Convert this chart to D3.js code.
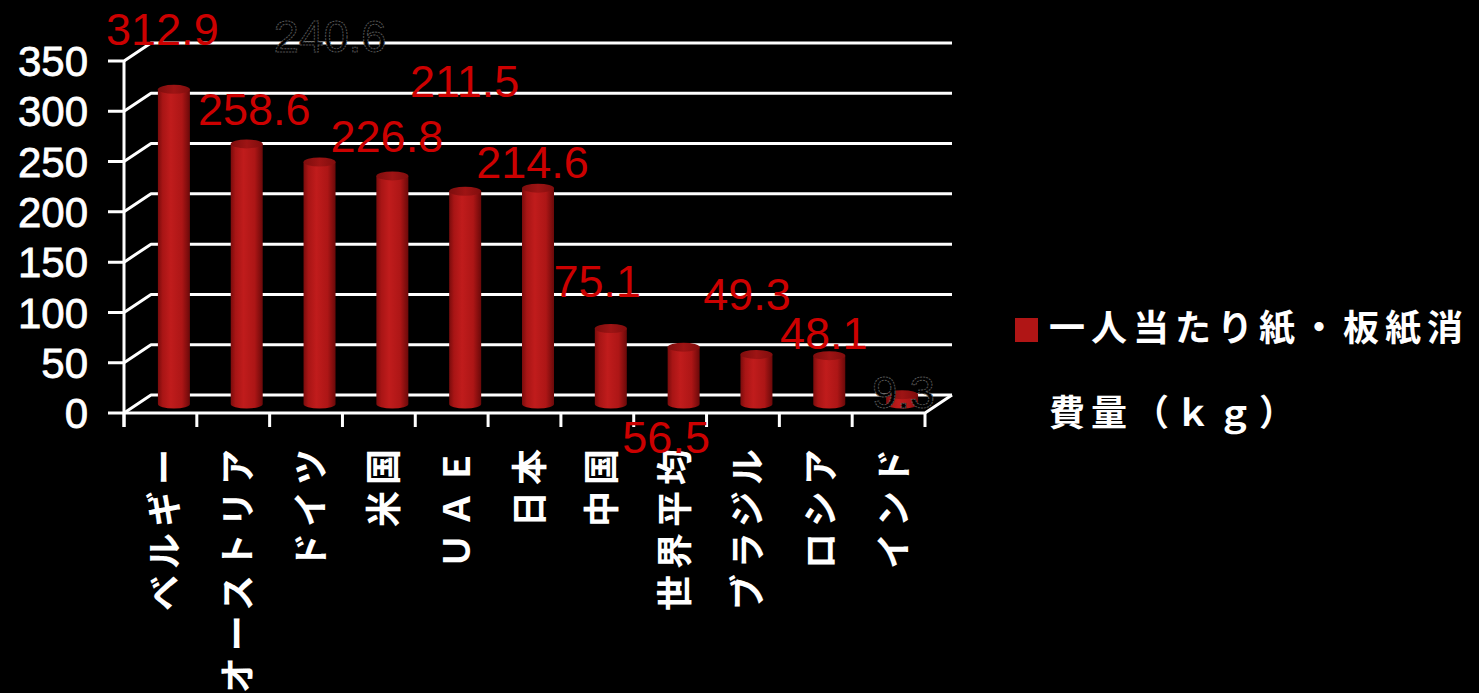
<!DOCTYPE html>
<html><head><meta charset="utf-8">
<script src="https://cdn.jsdelivr.net/npm/d3@7/dist/d3.min.js"></script>
<style>
html,body{margin:0;padding:0;background:#000;}
svg{display:block;}
</style></head>
<body>
<script>
const categories = ["ベルギー","オーストリア","ドイツ","米国","ＵＡＥ","日本","中国","世界平均","ブラジル","ロシア","インド"];
const values = [312.9, 258.6, 240.6, 226.8, 211.5, 214.6, 75.1, 56.5, 49.3, 48.1, 9.3];
const labelTexts = ["312.9","258.6","240.6","226.8","211.5","214.6","75.1","56.5","49.3","48.1","9.3"];
// label offsets relative to (band centre, front value position)
const labelDx = [2, 21, 24, 8, 13, 8, 0, -4, 4, 8, 15];
const labelDy = [-53, -28, -119, -33, -103, -19, -40, 97, -53, -16, 4];
const labelDark = [false, false, true, false, false, false, false, false, false, false, true];
const yTicks = [0, 50, 100, 150, 200, 250, 300, 350];
const legendLines = ["一人当たり紙・板紙消", "費量（ｋｇ）"];

const W = 1479, H = 693;
const svg = d3.select("body").append("svg").attr("width", W).attr("height", H);
svg.append("rect").attr("width", W).attr("height", H).attr("fill", "#000");

const depthX = 27, depthY = -18;
const x = d3.scaleBand().domain(categories).range([124, 925]).padding(0);
const y = d3.scaleLinear().domain([0, 350]).range([413, 61]);

const defs = svg.append("defs");
const g1 = defs.append("linearGradient").attr("id", "cyl").attr("x1", "0").attr("x2", "1").attr("y1", "0").attr("y2", "0");
[[0, "#7a0c0c"], [0.15, "#a81515"], [0.4, "#c01c1c"], [0.75, "#ad1616"], [1, "#6a0909"]]
  .forEach(([o, c]) => g1.append("stop").attr("offset", o).attr("stop-color", c));
const g2 = defs.append("linearGradient").attr("id", "cyltop").attr("x1", "0").attr("x2", "1").attr("y1", "0").attr("y2", "0");
[[0, "#7d0d0d"], [0.5, "#9e1414"], [1, "#800d0d"]]
  .forEach(([o, c]) => g2.append("stop").attr("offset", o).attr("stop-color", c));

const lineCol = "#ffffff", lw = 3;
const yMin = 413, yMaxFront = 61;

// gridlines (front tick + diagonal + back wall line)
svg.append("g").selectAll("path").data(yTicks).join("path")
  .attr("d", t => {
    const yy = y(t);
    if (t === 0) return `M108,${yy}L124,${yy}M124,${yy}L${124 + depthX},${yy + depthY}L${925 + depthX},${yy + depthY}`;
    return `M108,${yy}L124,${yy}L${124 + depthX},${yy + depthY}L${925 + depthX},${yy + depthY}`;
  })
  .attr("fill", "none").attr("stroke", lineCol).attr("stroke-width", lw).attr("stroke-linejoin", "round");

// floor front and right edge
svg.append("path")
  .attr("d", `M124,${y(0)}L925,${y(0)}L${925 + depthX},${y(0) + depthY}`)
  .attr("fill", "none").attr("stroke", lineCol).attr("stroke-width", lw);

// vertical front axis
svg.append("line").attr("x1", 124).attr("x2", 124).attr("y1", y(350)).attr("y2", y(0) + 14)
  .attr("stroke", lineCol).attr("stroke-width", lw);

// category ticks
const bounds = categories.map(c => x(c)).concat([x(categories[categories.length - 1]) + x.bandwidth()]);
svg.append("g").selectAll("line").data(bounds).join("line")
  .attr("x1", d => d).attr("x2", d => d).attr("y1", y(0)).attr("y2", y(0) + 14)
  .attr("stroke", lineCol).attr("stroke-width", lw);

// y tick labels
svg.append("g").selectAll("text").data(yTicks).join("text")
  .attr("x", 88).attr("y", t => y(t)).attr("dy", "0.36em")
  .attr("text-anchor", "end")
  .attr("font-family", "'Liberation Sans', Arial, sans-serif")
  .attr("font-size", 42).attr("fill", "#fff")
  .attr("stroke", "#fff").attr("stroke-width", 0.8)
  .text(t => t);

// bars (cylinders at mid depth)
const bw = 32, ry = 4.5;
const bars = svg.append("g").selectAll("g").data(categories).join("g");
bars.each(function (c, i) {
  const gsel = d3.select(this);
  const cx = x(c) + x.bandwidth() / 2 + depthX / 2;
  const yb = y(0) + depthY / 2;
  const yt = y(values[i]) + depthY / 2;
  gsel.append("path")
    .attr("d", `M${cx - bw / 2},${yt}L${cx - bw / 2},${yb}A${bw / 2},${ry} 0 0 0 ${cx + bw / 2},${yb}L${cx + bw / 2},${yt}Z`)
    .attr("fill", "url(#cyl)");
  gsel.append("ellipse").attr("cx", cx).attr("cy", yt).attr("rx", bw / 2).attr("ry", ry)
    .attr("fill", "url(#cyltop)");
});

// x category labels (rotated)
svg.append("g").selectAll("text").data(categories).join("text")
  .attr("transform", c => `translate(${x(c) + x.bandwidth() / 2 + 2},443) rotate(-90)`)
  .attr("text-anchor", "end").attr("dominant-baseline", "central")
  .attr("font-family", "'Noto Sans CJK JP', sans-serif")
  .attr("font-weight", 700).attr("font-size", 36).attr("letter-spacing", 6)
  .attr("fill", "#fff")
  .text(c => c);

// data labels
svg.append("g").selectAll("text").data(categories).join("text")
  .attr("x", (c, i) => x(c) + x.bandwidth() / 2 + labelDx[i])
  .attr("y", (c, i) => y(values[i]) + labelDy[i])
  .attr("text-anchor", "middle")
  .attr("font-family", "'Liberation Sans', Arial, sans-serif")
  .attr("font-size", 45)
  .attr("fill", (c, i) => labelDark[i] ? "#000" : "#cc0000")
  .attr("stroke", (c, i) => labelDark[i] ? "#555" : "none")
  .attr("stroke-width", 1).attr("stroke-dasharray", (c, i) => labelDark[i] ? "2,1" : null)
  .text((c, i) => labelTexts[i]);

// legend
const lg = svg.append("g");
lg.append("rect").attr("x", 1015).attr("y", 318).attr("width", 23).attr("height", 24).attr("fill", "#b01515");
lg.selectAll("text").data(legendLines).join("text")
  .attr("x", 1049).attr("y", (d, i) => 341 + i * 85)
  .attr("font-family", "'Noto Sans CJK JP', sans-serif")
  .attr("font-weight", 700).attr("font-size", 36).attr("letter-spacing", 6)
  .attr("fill", "#fff")
  .text(d => d);
</script>
</body></html>
